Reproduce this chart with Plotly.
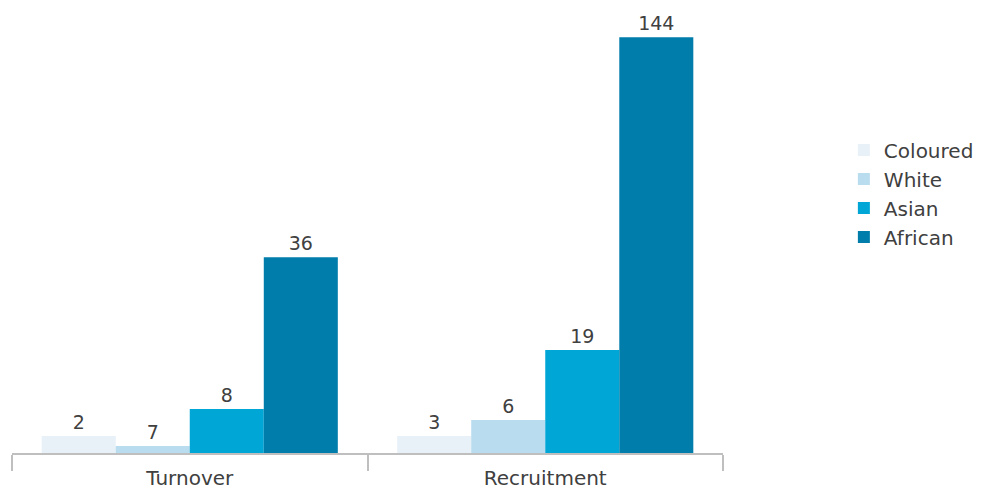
import plotly.graph_objects as go

categories = ["Turnover", "Recruitment"]
series = ["Coloured", "White", "Asian", "African"]
# bar heights as drawn in the picture (arbitrary units, scaled so that the tallest bar = 144)
bar_heights = {
    "Coloured": [5.9, 5.9],
    "White": [2.4, 11.4],
    "Asian": [15.2, 35.7],
    "African": [67.8, 144],
}
# numbers printed above the bars
label_values = {
    "Coloured": [2, 3],
    "White": [7, 6],
    "Asian": [8, 19],
    "African": [36, 144],
}
colors = {
    "Coloured": "#e8f1f8",
    "White": "#b9dcee",
    "Asian": "#00a6d6",
    "African": "#007dab",
}

FONT = "DejaVu Sans"
TXT = "#404040"

fig = go.Figure()
for s in series:
    fig.add_trace(go.Bar(
        name=s,
        x=categories,
        y=bar_heights[s],
        text=[str(v) for v in label_values[s]],
        textposition="outside",
        textfont=dict(family=FONT, size=19, color=TXT),
        marker=dict(color=colors[s], line=dict(width=0)),
        cliponaxis=False,
    ))

fig.update_layout(
    barmode="group",
    bargap=0.167,
    bargroupgap=0,
    width=981,
    height=488,
    margin=dict(l=4, r=266, t=12, b=43),
    paper_bgcolor="white",
    plot_bgcolor="white",
    font=dict(family=FONT, size=19, color=TXT),
    showlegend=True,
    legend=dict(
        x=1.17, y=0.745, xanchor="left", yanchor="top",
        font=dict(family=FONT, size=20, color=TXT),
        traceorder="normal",
        itemwidth=30,
        tracegroupgap=0,
    ),
)
fig.update_xaxes(
    showline=True, linecolor="#bfbfbf", linewidth=1.5,
    ticks="outside", tickson="boundaries", ticklen=16, tickcolor="#bfbfbf", tickwidth=1.5,
    ticklabelstandoff=6,
    showgrid=False, tickfont=dict(family=FONT, size=20, color=TXT),
)
fig.update_yaxes(visible=False, range=[0, 150], showgrid=False, zeroline=False)

fig.write_html("out.html")
